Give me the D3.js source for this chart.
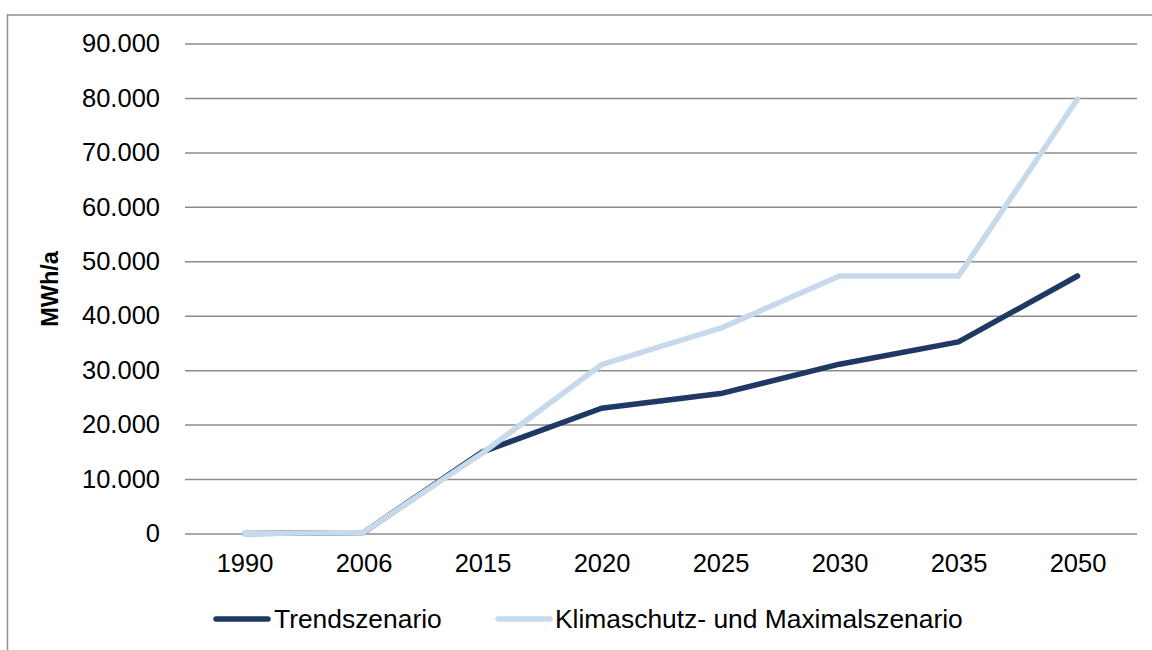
<!DOCTYPE html>
<html>
<head>
<meta charset="utf-8">
<script src="https://cdn.jsdelivr.net/npm/d3@7"></script>
<style>
  html, body { margin: 0; padding: 0; background: #fff; }
  svg { display: block; font-family: "Liberation Sans", Arial, sans-serif; }
</style>
</head>
<body>
<svg id="chart" width="1152" height="650"></svg>
<script>
// Years on the category axis
const years = ["1990", "2006", "2015", "2020", "2025", "2030", "2035", "2050"];
// Heat production in MWh/a per scenario
const trendValues = [0, 200, 15000, 23000, 25700, 31100, 35200, 47300];
const klimaValues = [0, 200, 14800, 31000, 37700, 47300, 47300, 79800];
const seriesNames = ["Trendszenario", "Klimaschutz- und Maximalszenario"];
const yTicks = [0, 10000, 20000, 30000, 40000, 50000, 60000, 70000, 80000, 90000];

const svg = d3.select("#chart");
const plot = { left: 185, right: 1137, top: 43.5, bottom: 533.5 };

// Outer chart frame (open to the right and bottom)
svg.append("rect")
  .attr("x", 7.5).attr("y", 15)
  .attr("width", 1200).attr("height", 700)
  .attr("fill", "none").attr("stroke", "#8f8f8f").attr("stroke-width", 1.5);

const x = d3.scalePoint().domain(years).range([plot.left, plot.right]).padding(0.5);
const y = d3.scaleLinear().domain([0, 90000]).range([plot.bottom, plot.top]);

const fmt = v => d3.format(",")(v).replace(/,/g, ".");

// Horizontal gridlines and value labels
const yAxis = d3.axisLeft(y).tickValues(yTicks).tickFormat(fmt)
  .tickSize(-(plot.right - plot.left)).tickPadding(25);
const gy = svg.append("g").attr("transform", `translate(${plot.left},0)`).call(yAxis);
gy.select(".domain").remove();
gy.selectAll(".tick line").attr("stroke", "#8c8c8c").attr("stroke-width", 1.5);
gy.selectAll(".tick text").attr("fill", "#000").attr("font-size", 25.5)
  .attr("font-family", "Liberation Sans, Arial, sans-serif");

// Category labels
const xAxis = d3.axisBottom(x).tickSize(0).tickPadding(20);
const gx = svg.append("g").attr("transform", `translate(0,${plot.bottom})`).call(xAxis);
gx.select(".domain").remove();
gx.selectAll(".tick text").attr("fill", "#000").attr("font-size", 25.5)
  .attr("font-family", "Liberation Sans, Arial, sans-serif");

// Axis title
svg.append("text")
  .attr("transform", "translate(58,289) rotate(-90)")
  .attr("text-anchor", "middle")
  .attr("font-size", 23.5).attr("font-weight", "bold").attr("fill", "#000")
  .text("MWh/a");

const colors = ["#203864", "#c7d9ea"];
const line = d3.line().x((d, i) => x(years[i])).y(d => y(d));

[trendValues, klimaValues].forEach((vals, k) => {
  svg.append("path")
    .datum(vals)
    .attr("d", line)
    .attr("fill", "none")
    .attr("stroke", colors[k])
    .attr("stroke-width", 5.5)
    .attr("stroke-linejoin", "round")
    .attr("stroke-linecap", "round");
});

// Legend
const legendItems = [
  { name: seriesNames[0], color: colors[0], x0: 216, x1: 268, tx: 274 },
  { name: seriesNames[1], color: colors[1], x0: 498, x1: 550, tx: 555 }
];
const ly = 619;
legendItems.forEach(it => {
  svg.append("line")
    .attr("x1", it.x0).attr("x2", it.x1).attr("y1", ly).attr("y2", ly)
    .attr("stroke", it.color).attr("stroke-width", 5.5).attr("stroke-linecap", "round");
  svg.append("text")
    .attr("x", it.tx).attr("y", ly).attr("dy", "0.35em")
    .attr("font-size", 26.4).attr("fill", "#000")
    .text(it.name);
});
</script>
</body>
</html>
